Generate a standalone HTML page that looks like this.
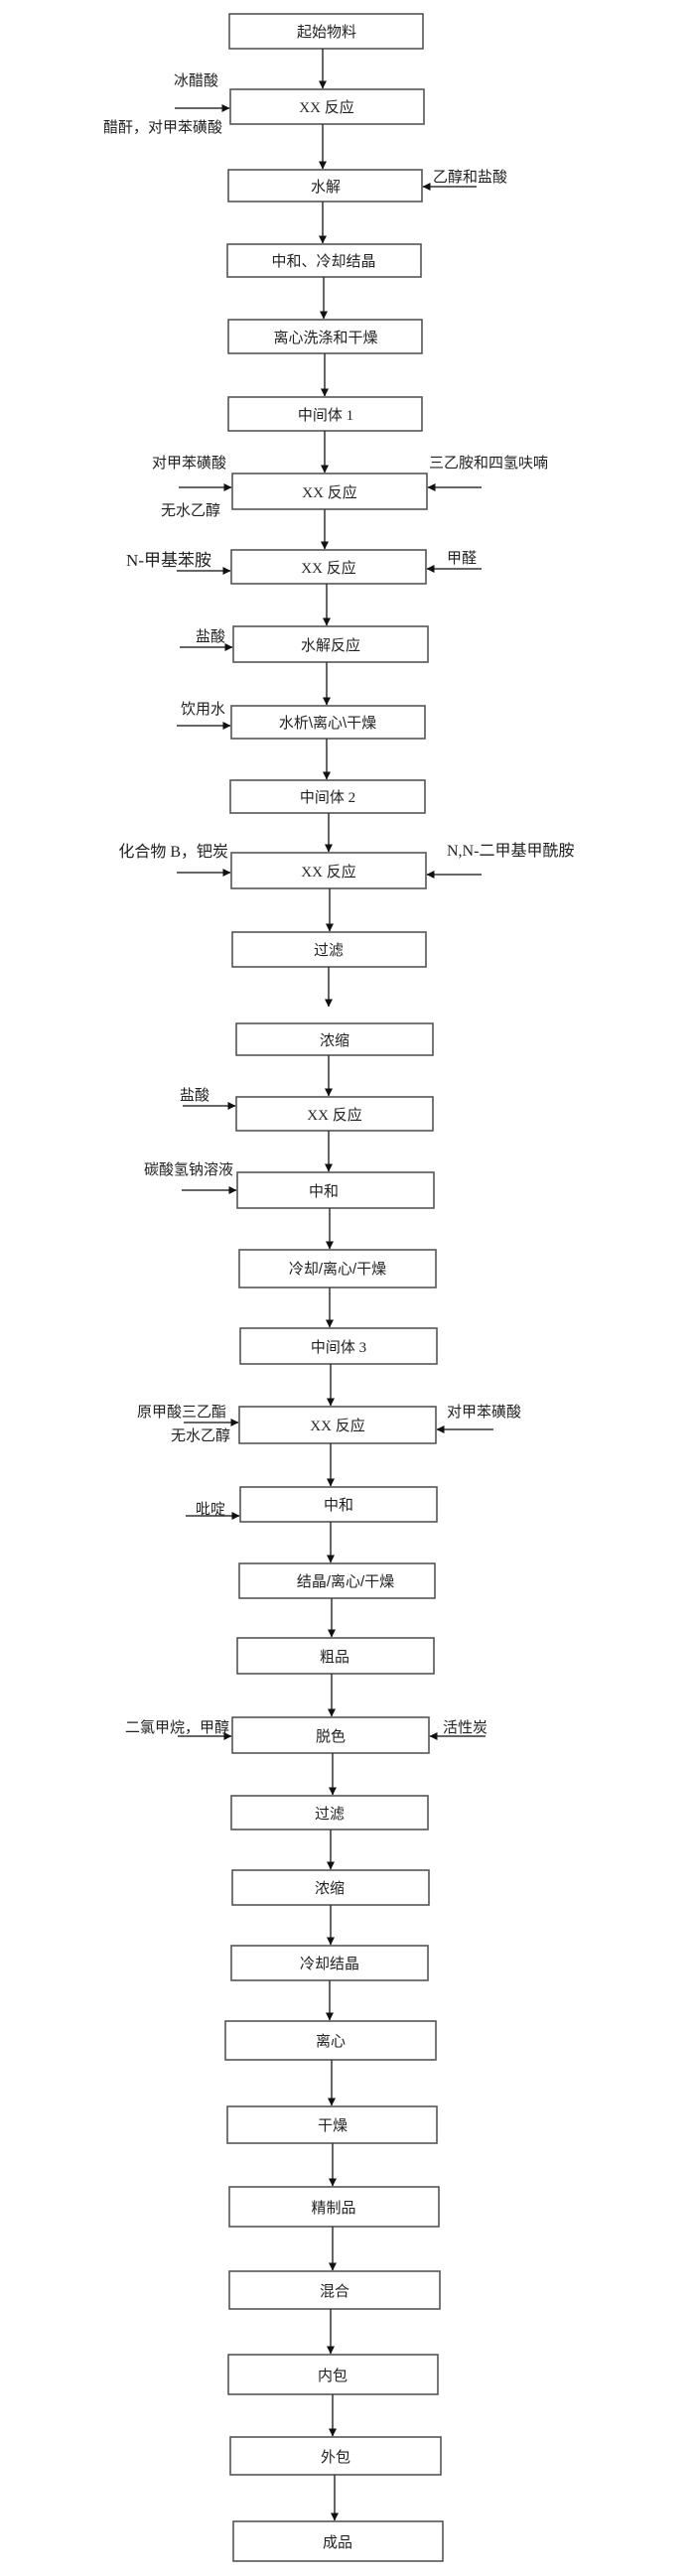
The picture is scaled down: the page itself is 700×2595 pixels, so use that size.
<!DOCTYPE html>
<html><head><meta charset="utf-8"><style>
html,body{margin:0;padding:0;background:#fff;}
svg{display:block;}
text{font-family:"Liberation Sans","Noto Sans CJK SC",sans-serif;font-size:15px;fill:#222;}
.s{font-family:"Liberation Serif","Noto Sans CJK SC",serif;}
rect{fill:#fff;stroke:#555;stroke-width:1.6;}
line{stroke:#333;stroke-width:1.5;}
</style></head><body>
<svg width="700" height="2595" viewBox="0 0 700 2595" xmlns="http://www.w3.org/2000/svg">
<defs>
<marker id="a" markerWidth="8" markerHeight="8" refX="7.5" refY="4" orient="auto" markerUnits="userSpaceOnUse"><path d="M0,0 L8,4 L0,8 z" fill="#111"/></marker>
</defs>
<g text-anchor="middle">
<rect x="231" y="14" width="195" height="35"/><text x="329" y="37">起始物料</text>
<rect x="232" y="90" width="195" height="35"/><text x="329" y="113" class="s">XX 反应</text>
<rect x="230" y="171" width="195" height="32"/><text x="328" y="193">水解</text>
<rect x="229" y="246" width="195" height="33"/><text x="326" y="268">中和、冷却结晶</text>
<rect x="230" y="322" width="195" height="34"/><text x="328" y="345">离心洗涤和干燥</text>
<rect x="230" y="400" width="195" height="34"/><text x="328" y="423" class="s">中间体 1</text>
<rect x="234" y="477" width="196" height="36"/><text x="332" y="501" class="s">XX 反应</text>
<rect x="233" y="554" width="196" height="34"/><text x="331" y="577" class="s">XX 反应</text>
<rect x="235" y="631" width="196" height="36"/><text x="333" y="655">水解反应</text>
<rect x="233" y="711" width="195" height="33"/><text x="330" y="733">水析\离心\干燥</text>
<rect x="232" y="786" width="196" height="33"/><text x="330" y="808" class="s">中间体 2</text>
<rect x="233" y="859" width="196" height="36"/><text x="331" y="883" class="s">XX 反应</text>
<rect x="234" y="939" width="195" height="35"/><text x="331" y="962">过滤</text>
<rect x="238" y="1031" width="198" height="32"/><text x="337" y="1053">浓缩</text>
<rect x="238" y="1105" width="198" height="34"/><text x="337" y="1128" class="s">XX 反应</text>
<rect x="239" y="1181" width="198" height="36"/><text x="326" y="1205">中和</text>
<rect x="241" y="1259" width="198" height="38"/><text x="340" y="1283">冷却/离心/干燥</text>
<rect x="242" y="1338" width="198" height="36"/><text x="341" y="1362" class="s">中间体 3</text>
<rect x="241" y="1417" width="198" height="37"/><text x="340" y="1441" class="s">XX 反应</text>
<rect x="242" y="1498" width="198" height="35"/><text x="341" y="1521">中和</text>
<rect x="241" y="1575" width="197" height="35"/><text x="348" y="1598">结晶/离心/干燥</text>
<rect x="239" y="1650" width="198" height="36"/><text x="337" y="1674">粗品</text>
<rect x="234" y="1730" width="198" height="36"/><text x="333" y="1754">脱色</text>
<rect x="233" y="1809" width="198" height="34"/><text x="332" y="1832">过滤</text>
<rect x="234" y="1884" width="198" height="35"/><text x="332" y="1907">浓缩</text>
<rect x="233" y="1960" width="198" height="35"/><text x="332" y="1983">冷却结晶</text>
<rect x="227" y="2036" width="212" height="39"/><text x="333" y="2061">离心</text>
<rect x="229" y="2122" width="211" height="37"/><text x="335" y="2146">干燥</text>
<rect x="231" y="2203" width="211" height="40"/><text x="336" y="2229">精制品</text>
<rect x="231" y="2288" width="212" height="38"/><text x="337" y="2313">混合</text>
<rect x="230" y="2372" width="211" height="40"/><text x="335" y="2398">内包</text>
<rect x="232" y="2455" width="212" height="38"/><text x="338" y="2480">外包</text>
<rect x="235" y="2540" width="211" height="40"/><text x="340" y="2566">成品</text>
</g>
<g marker-end="url(#a)">
<line x1="325" y1="49" x2="325" y2="89"/>
<line x1="325" y1="125" x2="325" y2="170"/>
<line x1="325" y1="203" x2="325" y2="245"/>
<line x1="326" y1="279" x2="326" y2="321"/>
<line x1="327" y1="356" x2="327" y2="399"/>
<line x1="327" y1="434" x2="327" y2="476"/>
<line x1="327" y1="513" x2="327" y2="553"/>
<line x1="329" y1="588" x2="329" y2="630"/>
<line x1="329" y1="667" x2="329" y2="710"/>
<line x1="329" y1="744" x2="329" y2="785"/>
<line x1="331" y1="819" x2="331" y2="858"/>
<line x1="332" y1="895" x2="332" y2="938"/>
<line x1="331" y1="974" x2="331" y2="1014"/>
<line x1="331" y1="1063" x2="331" y2="1104"/>
<line x1="331" y1="1139" x2="331" y2="1180"/>
<line x1="332" y1="1217" x2="332" y2="1258"/>
<line x1="332" y1="1297" x2="332" y2="1337"/>
<line x1="333" y1="1374" x2="333" y2="1416"/>
<line x1="333" y1="1454" x2="333" y2="1497"/>
<line x1="333" y1="1533" x2="333" y2="1574"/>
<line x1="334" y1="1610" x2="334" y2="1649"/>
<line x1="334" y1="1686" x2="334" y2="1729"/>
<line x1="335" y1="1766" x2="335" y2="1808"/>
<line x1="333" y1="1843" x2="333" y2="1883"/>
<line x1="333" y1="1919" x2="333" y2="1959"/>
<line x1="332" y1="1995" x2="332" y2="2035"/>
<line x1="334" y1="2075" x2="334" y2="2121"/>
<line x1="335" y1="2159" x2="335" y2="2202"/>
<line x1="335" y1="2243" x2="335" y2="2287"/>
<line x1="333" y1="2326" x2="333" y2="2371"/>
<line x1="335" y1="2412" x2="335" y2="2454"/>
<line x1="337" y1="2493" x2="337" y2="2539"/>
<!-- side inputs -->
<line x1="176" y1="109" x2="231" y2="109"/>
<line x1="480" y1="188" x2="426" y2="188"/>
<line x1="180" y1="491" x2="233" y2="491"/>
<line x1="485" y1="491" x2="431" y2="491"/>
<line x1="178" y1="575" x2="232" y2="575"/>
<line x1="485" y1="573" x2="430" y2="573"/>
<line x1="181" y1="652" x2="234" y2="652"/>
<line x1="178" y1="731" x2="232" y2="731"/>
<line x1="178" y1="879" x2="232" y2="879"/>
<line x1="485" y1="881" x2="430" y2="881"/>
<line x1="184" y1="1114" x2="237" y2="1114"/>
<line x1="183" y1="1199" x2="238" y2="1199"/>
<line x1="185" y1="1433" x2="240" y2="1433"/>
<line x1="497" y1="1440" x2="440" y2="1440"/>
<line x1="187" y1="1527" x2="241" y2="1527"/>
<line x1="179" y1="1749" x2="233" y2="1749"/>
<line x1="489" y1="1749" x2="433" y2="1749"/>
</g>
<g>
<text x="220" y="86" text-anchor="end">冰醋酸</text>
<text x="224" y="133" text-anchor="end">醋酐，对甲苯磺酸</text>
<text x="436" y="183">乙醇和盐酸</text>
<text x="228" y="471" text-anchor="end">对甲苯磺酸</text>
<text x="222" y="519" text-anchor="end">无水乙醇</text>
<text x="432" y="471">三乙胺和四氢呋喃</text>
<text x="213" y="570" text-anchor="end" style="font-size:17px" class="s">N-甲基苯胺</text>
<text x="450" y="567">甲醛</text>
<text x="227" y="646" text-anchor="end">盐酸</text>
<text x="227" y="719" text-anchor="end">饮用水</text>
<text x="230" y="863" text-anchor="end" class="s" style="font-size:16px">化合物 B，钯炭</text>
<text x="450" y="862" class="s" style="font-size:16px">N,N-二甲基甲酰胺</text>
<text x="211" y="1108" text-anchor="end">盐酸</text>
<text x="235" y="1183" text-anchor="end">碳酸氢钠溶液</text>
<text x="228" y="1427" text-anchor="end">原甲酸三乙酯</text>
<text x="232" y="1451" text-anchor="end">无水乙醇</text>
<text x="450" y="1427">对甲苯磺酸</text>
<text x="227" y="1525" text-anchor="end">吡啶</text>
<text x="231" y="1745" text-anchor="end">二氯甲烷，甲醇</text>
<text x="446" y="1745">活性炭</text>
</g>
</svg>
</body></html>
